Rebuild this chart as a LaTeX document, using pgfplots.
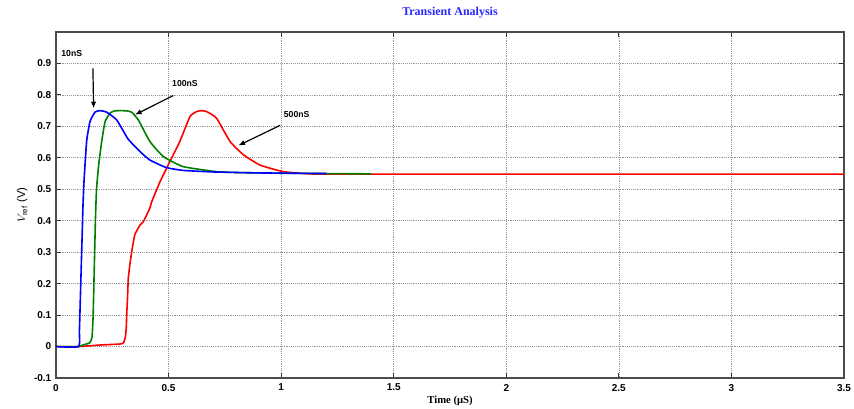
\documentclass[border=0pt]{standalone}
\usepackage{fontspec}
\setmainfont{Liberation Sans}
\newfontfamily\serif{Liberation Serif}
\usepackage{pgfplots}
\pgfplotsset{compat=1.18}
\usetikzlibrary{arrows.meta}
\definecolor{mblue}{RGB}{0,0,255}
\definecolor{mgreen}{RGB}{0,128,0}
\definecolor{mred}{RGB}{255,0,0}
\definecolor{titleblue}{RGB}{40,40,255}
\begin{document}
\begin{tikzpicture}
\begin{axis}[
  at={(0,0)}, anchor=south west,
  scale only axis,
  width=591pt, height=259.5pt,
  xmin=0, xmax=3.5, ymin=-0.1, ymax=1.0,
  xtick={0,0.5,...,3.5},
  ytick={-0.1,0,0.1,0.2,0.3,0.4,0.5,0.6,0.7,0.8,0.9},
  xticklabels={0,0.5,1,1.5,2,2.5,3,3.5},
  yticklabels={-0.1,0,0.1,0.2,0.3,0.4,0.5,0.6,0.7,0.8,0.9},
  tick align=inside,
  major tick length=4pt,
  axis line style={black!70, line width=1pt},
  tick style={black!80, line width=0.8pt},
  grid=major,
  grid style={gray!80, densely dotted, line width=0.5pt},
  tick label style={font=\fontsize{7.5}{8}\selectfont\bfseries},
  xticklabel style={yshift=-1pt},
  title={\serif\bfseries Transient Analysis},
  title style={font=\fontsize{9}{10}\selectfont, text=titleblue, yshift=1pt},
  xlabel={\serif\bfseries Time (μS)},
  xlabel style={font=\fontsize{8}{9}\selectfont, yshift=3pt},
  ylabel={$V_{\mathrm{ref}}$ (V)},
  ylabel style={font=\fontsize{8.5}{9}\selectfont, yshift=-2pt},
  every axis plot/.append style={line width=1.2pt, line join=round, smooth, tension=0.3},
]
\addplot[mred] coordinates {
(0,0) (0.1,0) (0.2,0.005) (0.284,0.008) (0.30,0.012) (0.308,0.03) (0.312,0.06)
(0.314,0.1) (0.318,0.16) (0.321,0.216) (0.328,0.26) (0.336,0.3) (0.35,0.355)
(0.373,0.386) (0.388,0.397) (0.417,0.44) (0.425,0.46) (0.462,0.524) (0.506,0.588)
(0.55,0.652) (0.595,0.731) (0.625,0.747) (0.645,0.75) (0.669,0.747) (0.713,0.726)
(0.773,0.652) (0.832,0.61) (0.906,0.577) (1.01,0.556) (1.128,0.549) (1.3,0.548)
(3.5,0.548)};
\addplot[mgreen] coordinates {
(0,0) (0.1,0) (0.12,0.005) (0.15,0.012) (0.16,0.03) (0.165,0.1) (0.17,0.25)
(0.175,0.4) (0.18,0.5) (0.19,0.58) (0.203,0.652) (0.218,0.715) (0.24,0.742)
(0.26,0.749) (0.29,0.75) (0.315,0.749) (0.336,0.745) (0.366,0.72) (0.417,0.652)
(0.477,0.604) (0.565,0.572) (0.713,0.556) (0.817,0.553) (1.0,0.551) (1.4,0.549)};
\addplot[mblue] coordinates {
(0,0) (0.1,0) (0.104,0.05) (0.11,0.2) (0.116,0.35) (0.12,0.45) (0.124,0.52)
(0.136,0.652) (0.151,0.715) (0.173,0.745) (0.195,0.75) (0.225,0.745) (0.27,0.72)
(0.32,0.66) (0.373,0.62) (0.417,0.593) (0.49,0.569) (0.565,0.56) (0.7,0.555)
(0.9,0.552) (1.2,0.55)};
% annotations
\node[font=\fontsize{6.5}{7}\selectfont\bfseries] at (axis cs:0.07,0.93) {10nS};
\draw[-{Latex[length=5pt,width=4pt]}, line width=0.9pt] (axis cs:0.164,0.884) -- (axis cs:0.167,0.757);
\node[font=\fontsize{6.5}{7}\selectfont\bfseries] at (axis cs:0.573,0.837) {100nS};
\draw[-{Latex[length=5pt,width=4pt]}, line width=0.9pt] (axis cs:0.521,0.798) -- (axis cs:0.351,0.737);
\node[font=\fontsize{6.5}{7}\selectfont\bfseries] at (axis cs:1.069,0.737) {500nS};
\draw[-{Latex[length=5pt,width=4pt]}, line width=0.9pt] (axis cs:0.995,0.703) -- (axis cs:0.81,0.639);
\end{axis}
\pgfresetboundingbox
\path[use as bounding box] (-42pt,-23.25pt) rectangle (598.5pt,283.5pt);
\end{tikzpicture}
\end{document}
